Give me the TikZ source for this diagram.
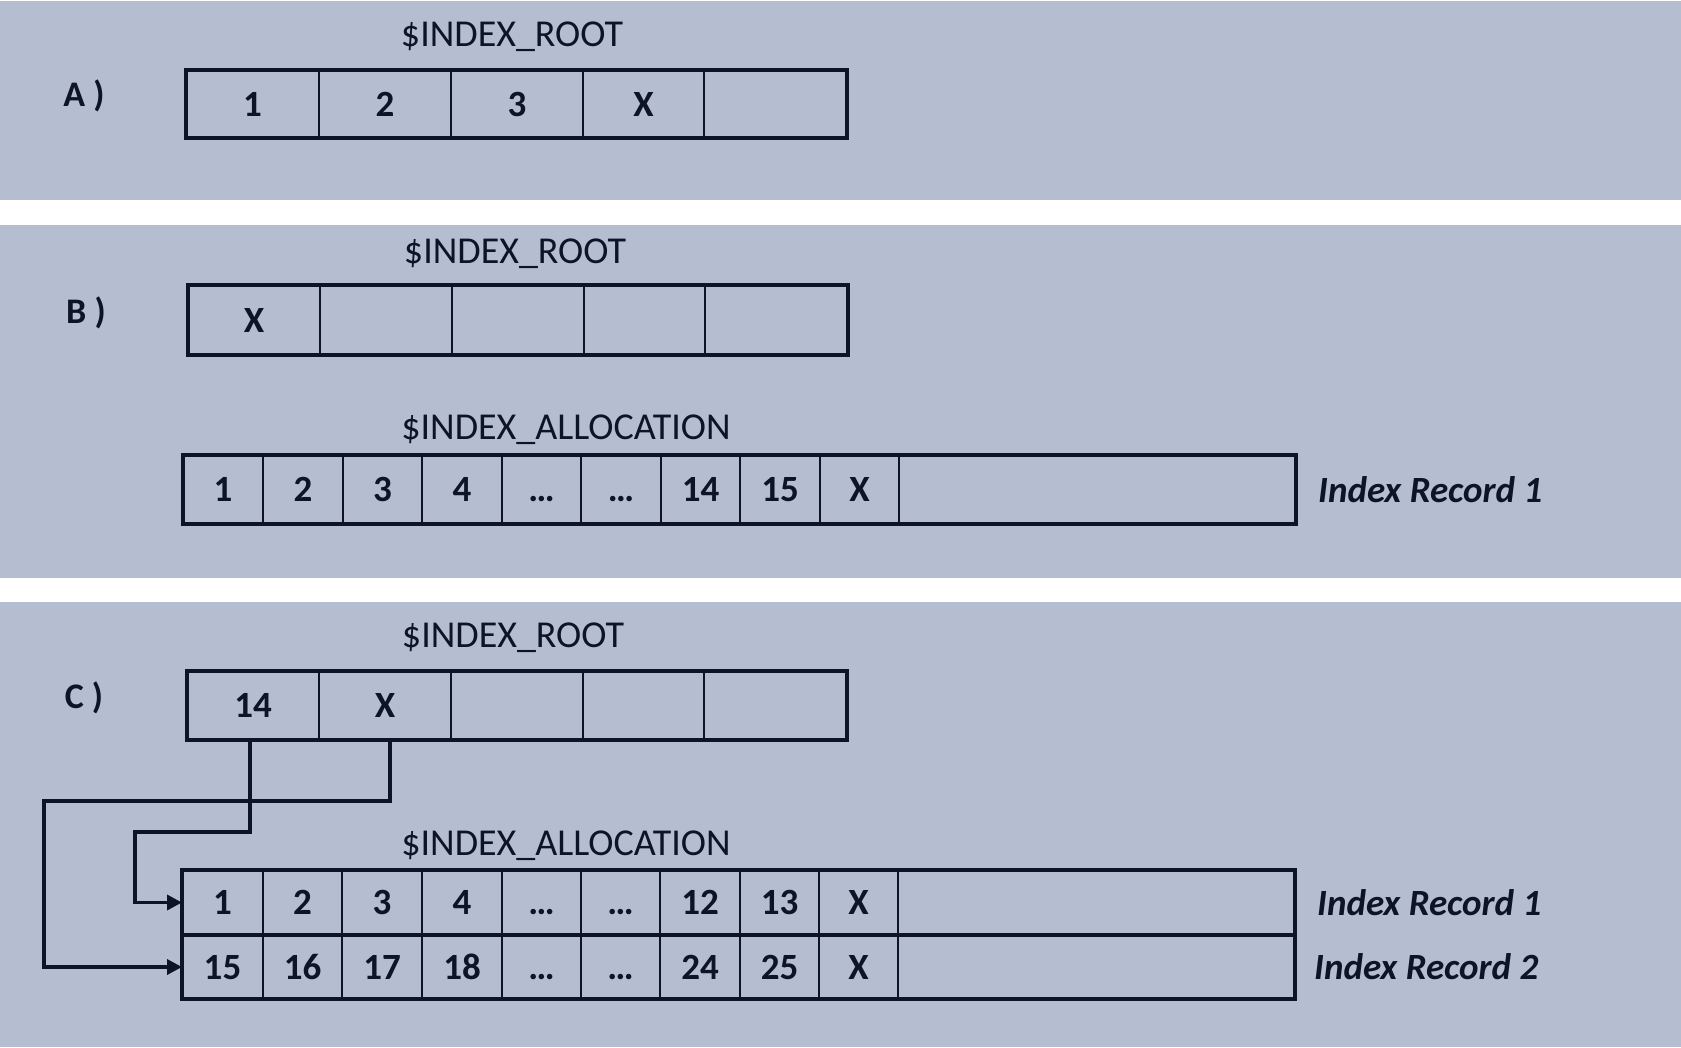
\documentclass[tikz,border=0pt]{standalone}
\usepackage{fontspec}
\setmainfont{Carlito}
\usetikzlibrary{arrows.meta, positioning}
\definecolor{panelblue}{RGB}{181, 189, 208}
\definecolor{inkblue}{RGB}{12, 20, 38}

\tikzset{
  panel/.style={fill=panelblue, draw=none},
  cell/.style={draw=inkblue, line width=1.8pt, inner sep=0pt, outer sep=0pt,
    text height=24pt, text depth=0pt, text=inkblue,
    font=\fontsize{37}{44}\selectfont\bfseries},
  frame/.style={draw=inkblue, line width=3.5pt},
  title/.style={text=inkblue, font=\fontsize{38}{44}\selectfont},
  tag/.style={text=inkblue, font=\fontsize{36}{44}\selectfont\bfseries},
  record/.style={text=inkblue, inner sep=0pt, font=\fontsize{37}{44}\selectfont\bfseries\itshape},
  link/.style={draw=inkblue, line width=3.5pt, -{Triangle[length=15pt, width=15pt]}}
}

\begin{document}
\begin{tikzpicture}[x=1pt, y=-1pt]
  \useasboundingbox (0,0) rectangle (1681,1047);
  \fill[white] (0,0) rectangle (1681,1047);

  % background panels
  \fill[panel] (0,1) rectangle (1681,200);
  \fill[panel] (0,225) rectangle (1681,578);
  \fill[panel] (0,602) rectangle (1681,1047);

  % ---- A ----
  \node[tag] (tagA) at (84,96) {A )};
  \node[title] (rootA) at (512,37) {\$INDEX\_ROOT};
  \foreach \xl/\xr/\val [count=\i] in {186/319/1, 319/451/2, 451/583/3, 583/704/X, 704/847/{}}
    \node[cell, minimum width={(\xr-\xl)*1pt}, minimum height=68pt] (a\i) at ({(\xl+\xr)/2},104) {\val};
  \draw[frame] (a1.north west) rectangle (a5.south east);

  % ---- B ----
  \node[tag] (tagB) at (86,313) {B )};
  \node[title] (rootB) at (515,254) {\$INDEX\_ROOT};
  \foreach \xl/\xr/\val [count=\i] in {188/320/X, 320/452/{}, 452/584/{}, 584/705/{}, 705/848/{}}
    \node[cell, minimum width={(\xr-\xl)*1pt}, minimum height=70pt] (b\i) at ({(\xl+\xr)/2},320) {\val};
  \draw[frame] (b1.north west) rectangle (b5.south east);

  \node[title] (allocB) at (566,430) {\$INDEX\_ALLOCATION};
  \foreach \xl/\xr/\val [count=\i] in {183/263/1, 263/343/2, 343/422/3, 422/502/4, 502/581/\ldots,
      581/661/\ldots, 661/740/14, 740/820/15, 820/899/X, 899/1296/{}}
    \node[cell, minimum width={(\xr-\xl)*1pt}, minimum height=69pt] (p\i) at ({(\xl+\xr)/2},489.5) {\val};
  \draw[frame] (p1.north west) rectangle (p10.south east);
  \node[record, right=22pt of p10] (recB) {Index Record 1};

  % ---- C ----
  \node[tag] (tagC) at (84,698) {C )};
  \node[title] (rootC) at (513,638) {\$INDEX\_ROOT};
  \foreach \xl/\xr/\val [count=\i] in {187/319/14, 319/451/X, 451/583/{}, 583/704/{}, 704/847/{}}
    \node[cell, minimum width={(\xr-\xl)*1pt}, minimum height=69pt] (c\i) at ({(\xl+\xr)/2},705.5) {\val};
  \draw[frame] (c1.north west) rectangle (c5.south east);

  \node[title] (allocC) at (566,846) {\$INDEX\_ALLOCATION};
  \foreach \xl/\xr/\val [count=\i] in {182/263/1, 263/342/2, 342/422/3, 422/502/4, 502/581/\ldots,
      581/660/\ldots, 660/740/12, 740/819/13, 819/898/X, 898/1295/{}}
    \node[cell, minimum width={(\xr-\xl)*1pt}, minimum height=65pt] (r\i) at ({(\xl+\xr)/2},902.5) {\val};
  \foreach \xl/\xr/\val [count=\i] in {182/263/15, 263/342/16, 342/422/17, 422/502/18, 502/581/\ldots,
      581/660/\ldots, 660/740/24, 740/819/25, 819/898/X, 898/1295/{}}
    \node[cell, minimum width={(\xr-\xl)*1pt}, minimum height=64pt] (s\i) at ({(\xl+\xr)/2},967) {\val};
  \draw[frame] (r1.north west) rectangle (s10.south east);
  \draw[frame] (r1.south west) -- (r10.south east);
  \node[record, right=22pt of r10] (recC1) {Index Record 1};
  \node[record, right=19pt of s10] (recC2) {Index Record 2};

  % pointers from the root entries
  \coordinate (kneeA) at (135,832);
  \coordinate (kneeB) at (44,801);
  \draw[link] ([xshift=5pt]c2.south) |- (kneeB) |- (s1.west);
  \draw[link] ([xshift=-3pt]c1.south) |- (kneeA) |- (r1.west);
\end{tikzpicture}
\end{document}
